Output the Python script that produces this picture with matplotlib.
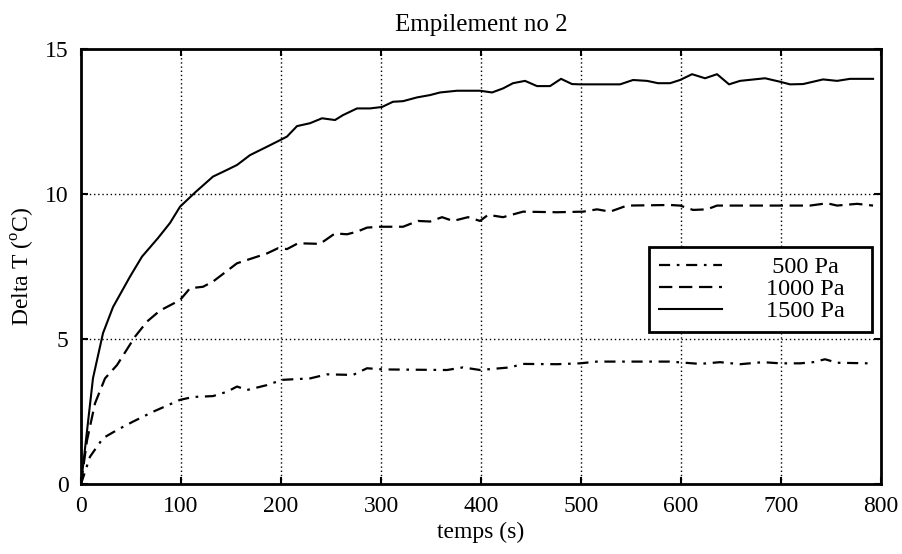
import numpy as np
import matplotlib
matplotlib.use("Agg")
import matplotlib.pyplot as plt

plt.rcParams['font.family'] = ['Liberation Serif', 'DejaVu Serif']
plt.rcParams['mathtext.fontset'] = 'custom'
plt.rcParams['mathtext.rm'] = 'Liberation Serif'

# values
t_500 = [0, 9, 22, 36, 52, 72, 99, 112, 132, 146, 156, 166, 186, 201, 212, 229, 246,
         272, 286, 302, 366, 382, 399, 429, 442, 476, 499, 516, 589, 619, 639, 659,
         682, 699, 719, 732, 744, 756, 789]
dt_500 = [0, 0.94, 1.58, 1.86, 2.15, 2.49, 2.9, 3.0, 3.03, 3.18, 3.36, 3.24, 3.41, 3.59,
          3.61, 3.64, 3.78, 3.76, 3.99, 3.95, 3.93, 4.02, 3.93, 4.02, 4.14, 4.13, 4.16,
          4.22, 4.22, 4.14, 4.2, 4.13, 4.2, 4.16, 4.16, 4.2, 4.3, 4.18, 4.16]

t_1000 = [0, 6, 14, 24, 36, 54, 66, 79, 99, 109, 122, 132, 156, 171, 186, 197, 206, 217,
          239, 254, 266, 276, 286, 299, 322, 337, 349, 361, 372, 387, 399, 407, 422, 442,
          476, 502, 516, 529, 546, 589, 599, 612, 626, 636, 699, 729, 746, 756, 776, 792]
dt_1000 = [0, 1.5, 2.78, 3.64, 4.1, 5.08, 5.6, 5.98, 6.34, 6.75, 6.8, 6.98, 7.61, 7.78,
           7.95, 8.13, 8.1, 8.3, 8.28, 8.64, 8.61, 8.7, 8.84, 8.87, 8.87, 9.07, 9.05, 9.2,
           9.07, 9.2, 9.07, 9.28, 9.2, 9.39, 9.37, 9.39, 9.47, 9.39, 9.6, 9.62, 9.6, 9.45,
           9.47, 9.6, 9.6, 9.6, 9.68, 9.6, 9.66, 9.6]

t_1500 = [0, 12, 22, 32, 49, 61, 77, 89, 99, 114, 132, 146, 156, 169, 186, 201, 206, 216,
          229, 241, 254, 262, 276, 289, 301, 312, 322, 336, 349, 359, 376, 399, 411, 422,
          432, 444, 456, 469, 480, 491, 499, 539, 552, 566, 577, 589, 599, 611, 624, 636,
          648, 659, 684, 699, 709, 722, 742, 756, 769, 792]
dt_1500 = [0, 3.65, 5.2, 6.1, 7.15, 7.84, 8.48, 9.0, 9.56, 10.05, 10.6, 10.83, 11.0, 11.34,
           11.63, 11.89, 11.98, 12.34, 12.44, 12.61, 12.55, 12.72, 12.95, 12.95, 13.0,
           13.18, 13.2, 13.33, 13.41, 13.5, 13.56, 13.56, 13.5, 13.64, 13.82, 13.9, 13.72,
           13.72, 13.97, 13.79, 13.78, 13.78, 13.93, 13.9, 13.82, 13.82, 13.93, 14.13,
           13.99, 14.13, 13.78, 13.9, 13.99, 13.87, 13.78, 13.79, 13.95, 13.9, 13.97, 13.97]

labels = [' 500 Pa', '1000 Pa', '1500 Pa']

fig = plt.figure(figsize=(9.03, 5.54), dpi=100)
ax = fig.add_axes([0.0897, 0.1264, 0.886, 0.7852])

ax.plot(t_500, dt_500, color='black', lw=1.6, linestyle=(0, (5, 3, 1.2, 3)), label=labels[0])
ax.plot(t_1000, dt_1000, color='black', lw=1.6, linestyle=(0, (6, 3)), label=labels[1])
ax.plot(t_1500, dt_1500, color='black', lw=1.5, linestyle='-', label=labels[2])

ax.set_xlim(0, 800)
ax.set_ylim(0, 15)
ax.set_xticks(np.arange(0, 801, 100))
ax.set_yticks([0, 5, 10, 15])
ax.grid(True, color='black', linestyle=(0, (1, 2)), linewidth=1.0)
ax.tick_params(direction='in', top=True, right=True, length=5, width=1.5,
               labelsize=17, pad=9)
for sp in ax.spines.values():
    sp.set_linewidth(2)

ax.set_title('Empilement no 2', fontsize=18, pad=13)
ax.set_xlabel('temps (s)', fontsize=17, labelpad=3)
ax.set_ylabel(r'Delta T ($^{\rm o}$C)', fontsize=17, labelpad=6)

leg = ax.legend(loc='lower left', bbox_to_anchor=(0.71, 0.349, 0.279, 0.244),
                mode='expand', fontsize=17.5, frameon=True, fancybox=False,
                edgecolor='black', framealpha=1, handlelength=2.6,
                handletextpad=1.8, borderpad=0.4, labelspacing=0.0, borderaxespad=0)
leg.get_frame().set_linewidth(2)

fig.savefig('out.png', dpi=100)
